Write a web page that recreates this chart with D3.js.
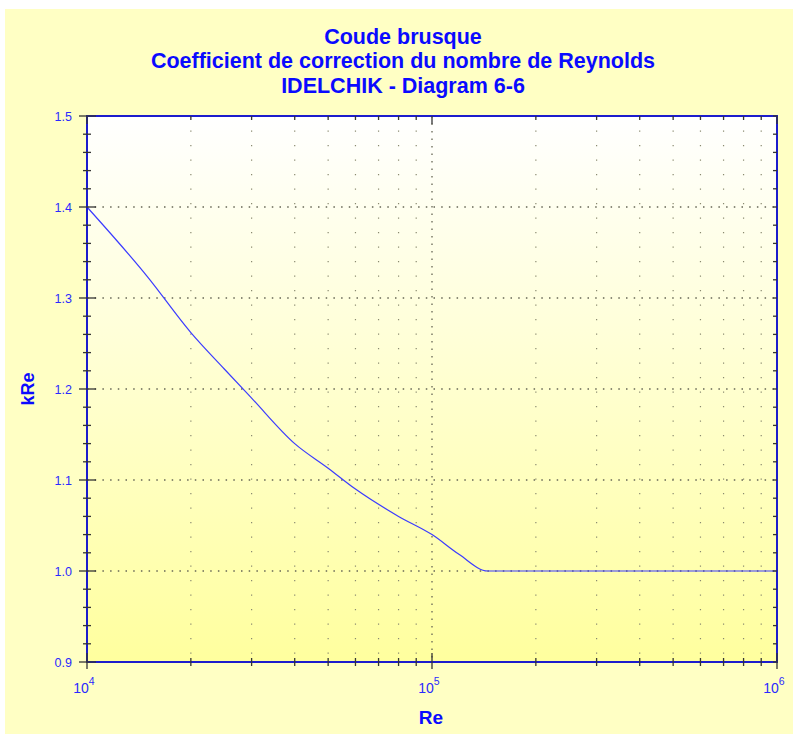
<!DOCTYPE html>
<html>
<head>
<meta charset="utf-8">
<script src="https://cdn.jsdelivr.net/npm/d3@7"></script>
<style>
  body { margin: 0; background: #ffffff; }
  svg { display: block; font-family: "Liberation Sans", Arial, sans-serif; }
</style>
</head>
<body>
<div id="chart"></div>
<script>
// data
var reValues = [1e4, 1.5e4, 2e4, 2.5e4, 3e4, 4e4, 5e4, 6e4, 8e4, 1e5, 1.2e5, 1.45e5, 1.6e5, 2e5, 5e5, 1e6];
var kReValues = [1.40, 1.323, 1.262, 1.222, 1.19, 1.14, 1.113, 1.09, 1.06, 1.04, 1.018, 1.0, 1.0, 1.0, 1.0, 1.0];
var titleLines = ["Coude brusque", "Coefficient de correction du nombre de Reynolds", "IDELCHIK - Diagram 6-6"];
var yTicks = [0.9, 1.0, 1.1, 1.2, 1.3, 1.4, 1.5];
var xDecades = [4, 5, 6];

var svgWidth = 793;
var svgHeight = 734;

var margin = { top: 116, right: 16, bottom: 72, left: 87 };
var width = 777 - margin.left;
var height = 662 - margin.top;

var svg = d3.select("#chart")
  .append("svg")
  .attr("width", svgWidth)
  .attr("height", svgHeight);

// outer pale yellow panel
svg.append("rect")
  .attr("x", 5).attr("y", 9)
  .attr("width", svgWidth - 5).attr("height", svgHeight - 9)
  .attr("fill", "#ffffc4");

var defs = svg.append("defs");
var grad = defs.append("linearGradient")
  .attr("id", "plotGrad")
  .attr("x1", 0).attr("y1", 0).attr("x2", 0).attr("y2", 1);
grad.append("stop").attr("offset", "0%").attr("stop-color", "#ffffff");
grad.append("stop").attr("offset", "100%").attr("stop-color", "#ffff9e");

// titles
svg.selectAll("text.title")
  .data(titleLines)
  .enter()
  .append("text")
  .attr("class", "title")
  .attr("x", 403)
  .attr("y", (d, i) => 44 + i * 24.3)
  .attr("text-anchor", "middle")
  .attr("font-size", "21.5px")
  .attr("font-weight", "bold")
  .attr("fill", "#0a0aff")
  .text(d => d);

var chartGroup = svg.append("g")
  .attr("transform", `translate(${margin.left}, ${margin.top})`);

chartGroup.append("rect")
  .attr("width", width)
  .attr("height", height)
  .attr("fill", "url(#plotGrad)");

var xScale = d3.scaleLog()
  .domain([1e4, 1e6])
  .range([0, width]);

var yScale = d3.scaleLinear()
  .domain([0.9, 1.5])
  .range([height, 0]);

// tick positions
var xMajor = xDecades.map(e => Math.pow(10, e));
var xMinor = [];
xDecades.slice(0, -1).forEach(function(e) {
  for (var k = 2; k <= 9; k++) xMinor.push(k * Math.pow(10, e));
});
var yMinor = d3.range(0.92, 1.5, 0.02).filter(v => Math.abs(v * 10 - Math.round(v * 10)) > 0.01);

// grid: vertical minor (sparse dots), vertical major (dense), horizontal major (dense)
chartGroup.selectAll("line.vminor")
  .data(xMinor)
  .enter()
  .append("line")
  .attr("x1", d => xScale(d)).attr("x2", d => xScale(d))
  .attr("y1", 0).attr("y2", height)
  .attr("stroke", "#8a8a70")
  .attr("stroke-width", 1.2)
  .attr("stroke-dasharray", "1.3,13.2");

chartGroup.selectAll("line.vmajor")
  .data(xMajor.slice(1, -1))
  .enter()
  .append("line")
  .attr("x1", d => xScale(d)).attr("x2", d => xScale(d))
  .attr("y1", 0).attr("y2", height)
  .attr("stroke", "#666655")
  .attr("stroke-width", 1.3)
  .attr("stroke-dasharray", "1.5,6");

chartGroup.selectAll("line.hmajor")
  .data(yTicks.slice(1, -1))
  .enter()
  .append("line")
  .attr("x1", 0).attr("x2", width)
  .attr("y1", d => yScale(d)).attr("y2", d => yScale(d))
  .attr("stroke", "#666655")
  .attr("stroke-width", 1.3)
  .attr("stroke-dasharray", "1.5,6.2");

// curve
var line = d3.line()
  .x((d, i) => xScale(reValues[i]))
  .y(d => yScale(d))
  .curve(d3.curveMonotoneX);

chartGroup.append("path")
  .attr("d", line(kReValues))
  .attr("fill", "none")
  .attr("stroke", "#3b3bff")
  .attr("stroke-width", 1.2);

// frame
chartGroup.append("rect")
  .attr("width", width)
  .attr("height", height)
  .attr("fill", "none")
  .attr("stroke", "#1c1ccc")
  .attr("stroke-width", 2);

var tickColor = "#333333";

// left axis ticks
chartGroup.selectAll("line.ymaj")
  .data(yTicks)
  .enter()
  .append("line")
  .attr("x1", -8).attr("x2", 9)
  .attr("y1", d => yScale(d)).attr("y2", d => yScale(d))
  .attr("stroke", tickColor).attr("stroke-width", 1.3);

chartGroup.selectAll("line.ymin")
  .data(yMinor)
  .enter()
  .append("line")
  .attr("x1", -4).attr("x2", 4)
  .attr("y1", d => yScale(d)).attr("y2", d => yScale(d))
  .attr("stroke", tickColor).attr("stroke-width", 1.3);

// right axis ticks (inside)
chartGroup.selectAll("line.yright")
  .data(yTicks.concat(yMinor))
  .enter()
  .append("line")
  .attr("x1", width - 4).attr("x2", width)
  .attr("y1", d => yScale(d)).attr("y2", d => yScale(d))
  .attr("stroke", tickColor).attr("stroke-width", 1.3);

// bottom axis ticks
chartGroup.selectAll("line.xmaj")
  .data(xMajor)
  .enter()
  .append("line")
  .attr("x1", d => xScale(d)).attr("x2", d => xScale(d))
  .attr("y1", height - 9).attr("y2", height + 7)
  .attr("stroke", tickColor).attr("stroke-width", 1.3);

chartGroup.selectAll("line.xmin")
  .data(xMinor)
  .enter()
  .append("line")
  .attr("x1", d => xScale(d)).attr("x2", d => xScale(d))
  .attr("y1", height - 4).attr("y2", height + 4)
  .attr("stroke", tickColor).attr("stroke-width", 1.3);

// top axis ticks (inside)
chartGroup.selectAll("line.xtop")
  .data(xMinor.concat(xMajor))
  .enter()
  .append("line")
  .attr("x1", d => xScale(d)).attr("x2", d => xScale(d))
  .attr("y1", 0).attr("y2", d => xMajor.indexOf(d) >= 0 ? 8 : 4)
  .attr("stroke", tickColor).attr("stroke-width", 1.3);

// y tick labels
chartGroup.selectAll("text.ylab")
  .data(yTicks)
  .enter()
  .append("text")
  .attr("x", -15)
  .attr("y", d => yScale(d) + 4.5)
  .attr("text-anchor", "end")
  .attr("font-size", "12.5px")
  .attr("fill", "#2a2aff")
  .text(d => d.toFixed(1));

// x tick labels 10^n
var xLab = chartGroup.selectAll("text.xlab")
  .data(xDecades)
  .enter()
  .append("text")
  .attr("x", d => xScale(Math.pow(10, d)) - 3)
  .attr("y", height + 31)
  .attr("text-anchor", "middle")
  .attr("font-size", "14px")
  .attr("fill", "#2a2aff");
xLab.append("tspan").text("10");
xLab.append("tspan")
  .attr("dy", -8)
  .attr("font-size", "10.5px")
  .text(d => d);

// axis titles
chartGroup.append("text")
  .attr("x", width / 2 - 1)
  .attr("y", height + 62)
  .attr("text-anchor", "middle")
  .attr("font-size", "19px")
  .attr("font-weight", "bold")
  .attr("fill", "#0a0aff")
  .text("Re");

chartGroup.append("text")
  .attr("transform", `translate(${-53}, ${yScale(1.2)}) rotate(-90)`)
  .attr("text-anchor", "middle")
  .attr("font-size", "18px")
  .attr("font-weight", "bold")
  .attr("fill", "#0a0aff")
  .text("kRe");
</script>
</body>
</html>
